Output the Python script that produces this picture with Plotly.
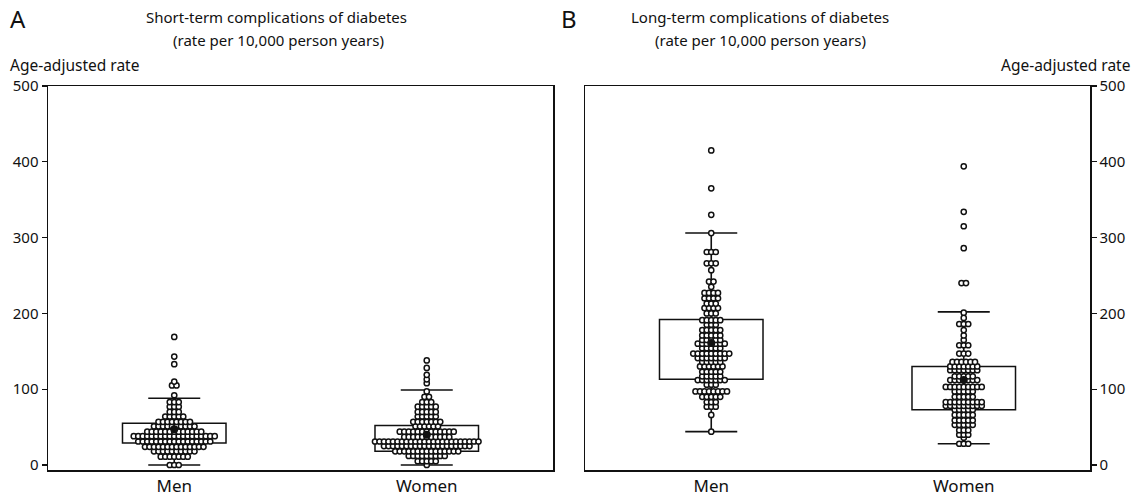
import numpy as np
import plotly.graph_objects as go

groups = ["Men", "Women"]

# ---- Panel A: short-term complications (dot rows: value, number of dots) ----
a_men_values = [0, 11, 18, 24, 31, 38, 44, 51, 57, 64, 70, 77, 83, 92, 105, 110, 133, 143, 169]
a_men_counts = [3, 7, 10, 14, 17, 19, 13, 10, 8, 5, 3, 3, 3, 1, 2, 1, 1, 1, 1]
a_women_values = [0, 5, 12, 18, 25, 31, 37, 44, 51, 57, 64, 70, 77, 83, 90, 97, 108, 113, 119, 128, 138]
a_women_counts = [1, 5, 9, 15, 20, 24, 11, 13, 6, 7, 5, 5, 5, 3, 2, 1, 1, 1, 1, 1, 1]

# ---- Panel B: long-term complications ----
b_men_values = [44, 66, 77, 83, 90, 97, 106, 112, 117, 123, 130, 136, 141, 147, 154, 160, 165,
                171, 178, 185, 191, 200, 207, 213, 220, 227, 235, 242, 257, 266, 281, 306, 330, 365, 415]
b_men_counts = [1, 1, 3, 3, 5, 8, 3, 7, 5, 5, 6, 5, 7, 9, 5, 7, 5,
                5, 5, 3, 5, 3, 4, 3, 4, 4, 1, 2, 1, 3, 3, 1, 1, 1, 1]
b_women_values = [28, 36, 40, 46, 53, 59, 66, 73, 78, 83, 90, 97, 103, 112, 117, 125, 130, 136,
                  147, 158, 165, 171, 178, 186, 194, 201, 240, 286, 315, 334, 394]
b_women_counts = [3, 1, 3, 3, 5, 5, 5, 5, 9, 9, 5, 5, 9, 7, 5, 7, 7, 6,
                  3, 3, 1, 1, 1, 3, 1, 1, 2, 1, 1, 1, 1]

# ---- Box summaries [Men, Women] ----
a_q1 = [29, 18]
a_q3 = [55, 52]
a_lo = [0, 0]
a_hi = [88, 99]
a_median = [47, 40]
b_q1 = [113, 73]
b_q3 = [192, 130]
b_lo = [44, 28]
b_hi = [306, 202]
b_median = [161, 112]

# ---- Layout geometry (pixels) ----
W, H = 1133, 498
ML, MR, MT, MB = 48, 43, 86, 28
PW = W - ML - MR
PH = H - MT - MB
A_L, A_R = 48, 553
B_L, B_R = 585, 1090
dom_a = [(A_L - ML) / PW, (A_R - ML) / PW]
dom_b = [(B_L - ML) / PW, (B_R - ML) / PW]
px_per_unit = (A_R - A_L) / 2.0
DOT_SPACING_PX = 4.5

FONT = "Noto Sans"
INK = "#111111"


def px(x):
    return (x - ML) / PW


def py(y):
    return (H - MB - y) / PH


def swarm(values, counts, center):
    xs, ys = [], []
    step = DOT_SPACING_PX / px_per_unit
    for v, n in zip(values, counts):
        for k in range(n):
            off = (k - (n - 1) / 2.0) * step
            xs.append(center + off)
            ys.append(v)
    return xs, ys


fig = go.Figure()

panels = [
    ("x", "y", a_q1, a_q3, a_lo, a_hi, a_median,
     [(a_men_values, a_men_counts), (a_women_values, a_women_counts)]),
    ("x2", "y2", b_q1, b_q3, b_lo, b_hi, b_median,
     [(b_men_values, b_men_counts), (b_women_values, b_women_counts)]),
]

for xa, ya, q1, q3, lo, hi, med, dots in panels:
    fig.add_trace(go.Bar(
        x=[0, 1], y=[b - a for a, b in zip(q1, q3)], base=q1, width=0.41,
        marker=dict(color="rgba(255,255,255,0)", line=dict(color=INK, width=1.5)),
        xaxis=xa, yaxis=ya, showlegend=False, hoverinfo="skip"))
    fig.add_trace(go.Scatter(
        x=[0, 1], y=lo, mode="markers",
        marker=dict(size=1, color=INK),
        error_y=dict(type="data", symmetric=False,
                     array=[h - l for l, h in zip(lo, hi)], arrayminus=[0, 0],
                     width=26, thickness=1.6, color=INK),
        xaxis=xa, yaxis=ya, showlegend=False, hoverinfo="skip"))
    for gi, (vals, cnts) in enumerate(dots):
        xs, ys = swarm(vals, cnts, gi)
        fig.add_trace(go.Scatter(
            x=xs, y=ys, mode="markers",
            marker=dict(symbol="circle", size=5.2, color="white",
                        line=dict(color=INK, width=1.5)),
            xaxis=xa, yaxis=ya, showlegend=False, name=groups[gi]))
    fig.add_trace(go.Scatter(
        x=[0, 1], y=med, mode="markers",
        marker=dict(symbol="circle", size=8, color=INK),
        xaxis=xa, yaxis=ya, showlegend=False, hoverinfo="skip"))

yticks = [0, 100, 200, 300, 400, 500]
common_x = dict(range=[-0.5, 1.5], tickmode="array", tickvals=[0, 1], ticktext=groups,
                showline=True, mirror=True, linecolor=INK, linewidth=1.5, ticks="",
                showgrid=False, zeroline=False, tickfont=dict(size=17, color=INK, family=FONT))
common_y = dict(range=[-6.6, 500], tickmode="array", tickvals=yticks,
                showline=True, mirror=True, linecolor=INK, linewidth=1.5,
                ticks="outside", ticklen=5, tickwidth=1.3, tickcolor=INK,
                showgrid=False, zeroline=False, tickfont=dict(size=15, color=INK, family=FONT))

fig.update_layout(
    width=W, height=H,
    margin=dict(l=ML, r=MR, t=MT, b=MB, autoexpand=False),
    paper_bgcolor="white", plot_bgcolor="white",
    font=dict(family=FONT, color=INK),
    barmode="overlay",
    xaxis=dict(domain=dom_a, anchor="y", **common_x),
    yaxis=dict(domain=[0, 1], anchor="x", side="left", **common_y),
    xaxis2=dict(domain=dom_b, anchor="y2", **common_x),
    yaxis2=dict(domain=[0, 1], anchor="x2", side="right", **common_y),
)

ann = [
    dict(text="A", x=px(9), y=py(18), xanchor="left", size=24),
    dict(text="B", x=px(560), y=py(18), xanchor="left", size=24),
    dict(text="Short-term complications of diabetes", x=px(276), y=py(17), xanchor="center", size=15),
    dict(text="(rate per 10,000 person years)", x=px(278), y=py(40), xanchor="center", size=15),
    dict(text="Long-term complications of diabetes", x=px(760), y=py(17), xanchor="center", size=15),
    dict(text="(rate per 10,000 person years)", x=px(760), y=py(40), xanchor="center", size=15),
    dict(text="Age-adjusted rate", x=px(9), y=py(65), xanchor="left", size=15.5),
    dict(text="Age-adjusted rate", x=px(1131), y=py(65), xanchor="right", size=15.5),
]
for a in ann:
    fig.add_annotation(text=a["text"], x=a["x"], y=a["y"], xref="paper", yref="paper",
                       xanchor=a["xanchor"], yanchor="middle", showarrow=False, borderpad=0,
                       font=dict(size=a["size"], family=FONT, color=INK))

fig.write_html("out.html",
               config={"displayModeBar": False, "staticPlot": True},
               post_script="document.body.style.margin='0';document.body.style.overflow='hidden';")
